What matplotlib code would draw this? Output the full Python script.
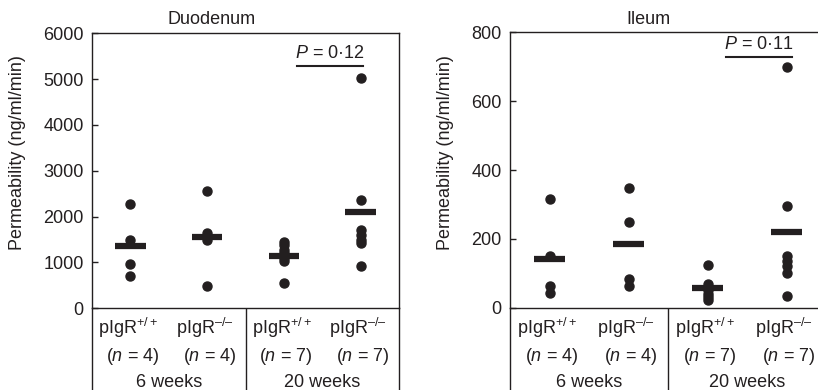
import matplotlib
matplotlib.use("Agg")
import matplotlib.pyplot as plt

plt.rcParams['font.family'] = 'Liberation Sans'
plt.rcParams['mathtext.fontset'] = 'custom'
plt.rcParams['mathtext.rm'] = 'Liberation Sans'
plt.rcParams['mathtext.it'] = 'Liberation Sans:italic'
FS = 13

INK = '#231f20'

# data
positions = [1, 2, 3, 4]
genotypes = ['pIgR$^{+/+}$', 'pIgR$^{\u2013/\u2013}$', 'pIgR$^{+/+}$', 'pIgR$^{\u2013/\u2013}$']
counts = ['($n$ = 4)', '($n$ = 4)', '($n$ = 7)', '($n$ = 7)']
ages = ['6 weeks', '20 weeks']

duo_vals = [[2280, 1500, 970, 700],
            [2560, 1650, 1500, 480],
            [1450, 1380, 1280, 1200, 1100, 1040, 550],
            [5030, 2370, 1700, 1600, 1500, 1420, 930]]
duo_means = [1360, 1558, 1142, 2102]

ile_vals = [[316, 150, 63, 42],
            [349, 250, 84, 63],
            [124, 70, 60, 50, 40, 30, 22],
            [700, 295, 150, 135, 120, 100, 34]]
ile_means = [142, 186, 58, 221]

panels = [
    dict(title='Duodenum', vals=duo_vals, means=duo_means, ymax=6000, step=1000,
         p='$P$ = 0\u00b712', py=5290, px=(3.17, 4.03),
         rect=[92/818, 0.2095, 307/818, 0.7051], title_x=212/818, ylab_x=18/818),
    dict(title='Ileum', vals=ile_vals, means=ile_means, ymax=800, step=200,
         p='$P$ = 0\u00b711', py=729, px=(3.23, 4.07),
         rect=[510/818, 0.211, 316/818, 0.7062], title_x=648/818, ylab_x=445/818),
]

fig = plt.figure(figsize=(8.18, 3.9), dpi=100)

for pn in panels:
    ax = fig.add_axes(pn['rect'])
    for x, v in zip(positions, pn['vals']):
        ax.plot([x] * len(v), v, 'o', color=INK, markersize=6.5, clip_on=False, zorder=3)
    ax.hlines(pn['means'], [x - 0.2 for x in positions], [x + 0.2 for x in positions],
              color=INK, linewidth=4.5, zorder=4)
    ax.set_xlim(0.5, 4.5)
    ax.set_ylim(0, pn['ymax'])
    ax.set_yticks(range(0, pn['ymax'] + 1, pn['step']))
    ax.set_xticks([])
    ax.tick_params(axis='y', direction='in', length=4, width=1, colors=INK, pad=6,
                   labelsize=FS)
    for s in ax.spines.values():
        s.set_color(INK)
        s.set_linewidth(1)
    # P value bracket
    ax.plot(pn['px'], [pn['py'], pn['py']], color=INK, linewidth=1.5, clip_on=False)
    ax.text(sum(pn['px']) / 2, pn['py'] + pn['ymax'] * 0.015, pn['p'], ha='center',
            va='bottom', fontsize=FS, color=INK)

    fig.text(pn['title_x'], 1 - 24/390, pn['title'], ha='center', va='baseline',
             fontsize=FS, color=INK)
    fig.text(pn['ylab_x'], 1 - 153/390, 'Permeability (ng/ml/min)', rotation=90,
             ha='center', va='center', fontsize=FS, color=INK)

    # group table below the axis
    l, b, w, h = pn['rect']
    tab = fig.add_axes([l, -6/390, w, b + 6/390])
    tab.set_xlim(0.5, 4.5)
    tab.set_ylim(396, 390 * (1 - b))
    tab.set_xticks([])
    tab.set_yticks([])
    tab.patch.set_alpha(0)
    for side in ['top', 'bottom']:
        tab.spines[side].set_visible(False)
    for side in ['left', 'right']:
        tab.spines[side].set_color(INK)
        tab.spines[side].set_linewidth(1)
    tab.axvline(2.5, color=INK, linewidth=1)
    for x, g, n in zip(positions, genotypes, counts):
        tab.text(x - 0.03, 334, g, ha='center', va='baseline', fontsize=FS, color=INK)
        tab.text(x + 0.03, 361, n, ha='center', va='baseline', fontsize=FS, color=INK)
    for i, a in enumerate(ages):
        tab.text(1.5 + 2 * i, 387, a, ha='center', va='baseline', fontsize=FS, color=INK)

fig.savefig('out.png', dpi=100)
